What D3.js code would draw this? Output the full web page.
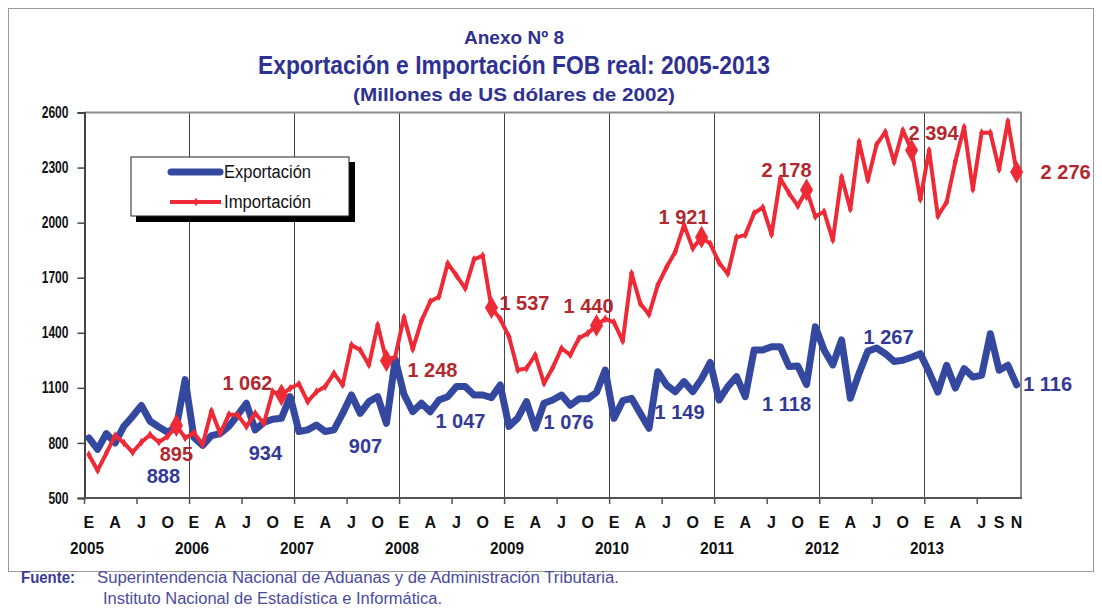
<!DOCTYPE html>
<html>
<head>
<meta charset="utf-8">
<script src="https://cdn.jsdelivr.net/npm/d3@7"></script>
<style>
  html, body { margin: 0; padding: 0; background: #fff; }
  svg { display: block; }
  text { font-family: "Liberation Sans Narrow", "Arial Narrow", "Liberation Sans", Arial, sans-serif; }
</style>
</head>
<body>
<svg id="chart" width="1102" height="609"></svg>
<script>
// Monthly series, January 2005 to November 2013 (millions of 2002 US dollars)
const years = [2005, 2006, 2007, 2008, 2009, 2010, 2011, 2012, 2013];
const monthCodes = ["E", "F", "M", "A", "M", "J", "J", "A", "S", "O", "N", "D"];
const monthsInLastYear = 11;

const exportacion = [
  827, 765, 851, 800, 891, 945, 1004, 918, 887, 858, 888, 1145,
  830, 787, 840, 851, 891, 952, 1016, 871, 912, 929, 934, 1052,
  862, 871, 898, 862, 871, 961, 1061, 961, 1025, 1052, 907, 1255,
  1065, 970, 1016, 970, 1034, 1052, 1107, 1107, 1061, 1061, 1047, 1116,
  890, 935, 1025, 880, 1016, 1034, 1061, 1005, 1040, 1040, 1076, 1197,
  934, 1030, 1043, 961, 880, 1188, 1116, 1079, 1134, 1079, 1149, 1238,
  1034, 1107, 1161, 1052, 1306, 1306, 1324, 1324, 1216, 1219, 1118, 1433,
  1306, 1225, 1361, 1043, 1180, 1300, 1317, 1286, 1244, 1250, 1267, 1286,
  1186, 1077, 1223, 1099, 1205, 1159, 1168, 1395, 1196, 1223, 1116
];

const importacion = [
  736, 650, 745, 840, 800, 749, 804, 845, 804, 836, 895, 827,
  855, 791, 975, 851, 955, 952, 889, 961, 907, 1079, 1062, 1098,
  1121, 1025, 1079, 1107, 1179, 1116, 1334, 1306, 1225, 1443, 1248, 1270,
  1486, 1310, 1465, 1570, 1597, 1778, 1712, 1642, 1800, 1820, 1537, 1475,
  1379, 1197, 1206, 1279, 1125, 1210, 1315, 1279, 1370, 1397, 1440, 1476,
  1457, 1355, 1724, 1560, 1500, 1660, 1757, 1842, 1987, 1860, 1921, 1885,
  1782, 1722, 1920, 1933, 2051, 2083, 1936, 2241, 2160, 2091, 2178, 2033,
  2060, 1905, 2250, 2073, 2441, 2231, 2425, 2494, 2330, 2503, 2394, 2127,
  2394, 2036, 2112, 2334, 2521, 2181, 2490, 2490, 2290, 2552, 2276
];

const yTicks = [500, 800, 1100, 1400, 1700, 2000, 2300, 2600];
const tickMonths = [0, 3, 6, 9];
const tickMonthsLast = [0, 3, 6, 8, 10];
const labelledMonth = 10; // November values are annotated

// month categories
const categories = [];
years.forEach((yr, yi) => {
  const n = yi === years.length - 1 ? monthsInLastYear : 12;
  for (let m = 0; m < n; m++) categories.push({ key: yr + "-" + (m + 1), year: yr, month: m });
});

const svg = d3.select("#chart");
const W = 1102, H = 609;
const plot = { left: 84.5, right: 1021, top: 112.5, bottom: 498 };

const x = d3.scaleBand().domain(categories.map(d => d.key)).range([plot.left, plot.right]).padding(0);
const y = d3.scaleLinear().domain([500, 2600]).range([plot.bottom, plot.top]);
const cx = i => x(categories[i].key) + x.bandwidth() / 2;

const titleColor = "#2e3192";
const blue = "#3548a0";
const red = "#ee2a36";
const blueLabel = "#333a96";
const redLabel = "#b3282e";

// outer frame
svg.append("rect").attr("x", 8.5).attr("y", 8.5).attr("width", W - 17).attr("height", 563)
  .attr("fill", "none").attr("stroke", "#9a9a9a").attr("stroke-width", 1);

// titles
function fitText(sel, len) { return sel.attr("textLength", len).attr("lengthAdjust", "spacingAndGlyphs"); }
fitText(svg.append("text").attr("x", 514).attr("y", 44).attr("text-anchor", "middle")
  .attr("font-size", 19).attr("font-weight", "bold").attr("fill", titleColor).text("Anexo Nº 8"), 100);
fitText(svg.append("text").attr("x", 514).attr("y", 74).attr("text-anchor", "middle")
  .attr("font-size", 25).attr("font-weight", "bold").attr("fill", titleColor)
  .text("Exportación e Importación FOB real: 2005-2013"), 512);
fitText(svg.append("text").attr("x", 514).attr("y", 101).attr("text-anchor", "middle")
  .attr("font-size", 19).attr("font-weight", "bold").attr("fill", titleColor)
  .text("(Millones de US dólares de 2002)"), 322);

// vertical year separators
const yearStarts = categories.map((d, i) => i).filter(i => categories[i].month === 0 && i > 0);
svg.append("g").selectAll("line").data(yearStarts).join("line")
  .attr("x1", i => x(categories[i].key)).attr("x2", i => x(categories[i].key))
  .attr("y1", plot.top).attr("y2", plot.bottom)
  .attr("stroke", "#444").attr("stroke-width", 1).attr("shape-rendering", "crispEdges");

// plot border
svg.append("path")
  .attr("d", `M${plot.left},${plot.top}H${plot.right}V${plot.bottom}`)
  .attr("fill", "none").attr("stroke", "#8c8c8c").attr("stroke-width", 2);

// y axis
const yAxis = d3.axisLeft(y).tickValues(yTicks).tickSize(7).tickPadding(4).tickFormat(d3.format("d"));
const gy = svg.append("g").attr("transform", `translate(${plot.left},0)`).call(yAxis);
gy.select(".domain").attr("stroke", "#444").attr("stroke-width", 2);
gy.selectAll(".tick line").attr("stroke", "#444").attr("stroke-width", 1.5);
gy.selectAll(".tick text").attr("font-size", 16).attr("font-weight", "bold").attr("fill", "#111")
  .attr("x", -16)
  .attr("textLength", d => String(d).length * 6.7).attr("lengthAdjust", "spacingAndGlyphs");

// x axis: ticks every six months, month letters and years below
const halfYearBounds = categories.map((d, i) => i).filter(i => categories[i].month % 6 === 0);
const gx = svg.append("g");
gx.append("line").attr("x1", plot.left - 1).attr("x2", plot.right + 1)
  .attr("y1", plot.bottom).attr("y2", plot.bottom).attr("stroke", "#555").attr("stroke-width", 2);
gx.selectAll("line.tk").data(halfYearBounds).join("line").attr("class", "tk")
  .attr("x1", i => x(categories[i].key)).attr("x2", i => x(categories[i].key))
  .attr("y1", plot.bottom).attr("y2", plot.bottom + 6)
  .attr("stroke", "#555").attr("stroke-width", 1.5);

const monthLabelIdx = categories.map((d, i) => i).filter(i => {
  const c = categories[i];
  return (c.year === years[years.length - 1] ? tickMonthsLast : tickMonths).includes(c.month);
});
gx.selectAll("text.m").data(monthLabelIdx).join("text").attr("class", "m")
  .attr("x", i => cx(i)).attr("y", 528).attr("text-anchor", "middle")
  .attr("font-size", 16).attr("font-weight", "bold").attr("fill", "#111")
  .text(i => monthCodes[categories[i].month]);
gx.selectAll("text.yr").data(years).join("text").attr("class", "yr")
  .attr("x", yr => cx(categories.findIndex(c => c.year === yr)) - 2).attr("y", 554)
  .attr("text-anchor", "middle").attr("font-size", 16).attr("font-weight", "bold").attr("fill", "#111")
  .attr("textLength", 34).attr("lengthAdjust", "spacingAndGlyphs")
  .text(yr => yr);

// series
const line = d3.line().x((d, i) => cx(i)).y(d => y(d));
svg.append("path").datum(exportacion).attr("d", line)
  .attr("fill", "none").attr("stroke", blue).attr("stroke-width", 7)
  .attr("stroke-linejoin", "round").attr("stroke-linecap", "round");
svg.append("path").datum(importacion).attr("d", line)
  .attr("fill", "none").attr("stroke", red).attr("stroke-width", 4)
  .attr("stroke-linejoin", "round");

// small markers on the import series
const diamond = d3.symbol().type(d3.symbolDiamond);
svg.append("g").selectAll("path").data(importacion).join("path")
  .attr("transform", (d, i) => `translate(${cx(i)},${y(d)})`)
  .attr("d", diamond.size(22)).attr("fill", red);

// November highlights
const novIdx = categories.map((d, i) => i).filter(i => categories[i].month === labelledMonth);
svg.append("g").selectAll("path").data(novIdx).join("path")
  .attr("transform", i => `translate(${cx(i)},${y(importacion[i])})`)
  .attr("d", d3.symbol().type(d3.symbolDiamond).size(150)()).attr("fill", red);

const fmt = v => d3.format(",")(v).replace(",", " ");
// label placement around each annotated point (dx, dy)
const expOffsets = [[-13, 49], [-16, 34], [-21, 23], [-31, 23], [-28, 30], [-22, 33], [-20, 19], [-23, -20], [31, -1]];
const impOffsets = [[0, 28], [-34, -12], [46, 9], [33, -5], [-8, -20], [-18, -20], [-20, -20], [22, -18], [49, 0]];

svg.append("g").selectAll("text").data(novIdx).join("text")
  .attr("x", (i, k) => cx(i) + expOffsets[k][0]).attr("y", (i, k) => y(exportacion[i]) + expOffsets[k][1])
  .attr("dy", "0.36em").attr("text-anchor", "middle")
  .attr("font-family", "'Liberation Sans',Arial,sans-serif")
  .attr("font-size", 20).attr("font-weight", "bold").attr("fill", blueLabel)
  .text(i => fmt(exportacion[i]));
svg.append("g").selectAll("text").data(novIdx).join("text")
  .attr("x", (i, k) => cx(i) + impOffsets[k][0]).attr("y", (i, k) => y(importacion[i]) + impOffsets[k][1])
  .attr("dy", "0.36em").attr("text-anchor", "middle")
  .attr("font-family", "'Liberation Sans',Arial,sans-serif")
  .attr("font-size", 20).attr("font-weight", "bold").attr("fill", redLabel)
  .text(i => fmt(importacion[i]));

// legend
const lg = svg.append("g");
lg.append("rect").attr("x", 136).attr("y", 162).attr("width", 219).attr("height", 60).attr("fill", "#000");
lg.append("rect").attr("x", 131).attr("y", 157).attr("width", 218).attr("height", 59)
  .attr("fill", "#fff").attr("stroke", "#222").attr("stroke-width", 1);
lg.append("line").attr("x1", 171).attr("x2", 220).attr("y1", 172).attr("y2", 172)
  .attr("stroke", blue).attr("stroke-width", 7).attr("stroke-linecap", "round");
lg.append("line").attr("x1", 170).attr("x2", 221).attr("y1", 202).attr("y2", 202)
  .attr("stroke", red).attr("stroke-width", 4);
lg.append("path").attr("transform", "translate(196,202)").attr("d", diamond.size(22)()).attr("fill", red);
fitText(lg.append("text").attr("x", 224).attr("y", 178).attr("font-size", 18).attr("fill", "#111")
  .text("Exportación"), 87);
fitText(lg.append("text").attr("x", 224).attr("y", 208).attr("font-size", 18).attr("fill", "#111")
  .text("Importación"), 87);

// source note
const src = svg.append("g");
fitText(src.append("text").attr("x", 21).attr("y", 583).attr("font-size", 16).attr("font-weight", "bold")
  .attr("fill", "#3a3a96").text("Fuente:"), 54);
fitText(src.append("text").attr("x", 97).attr("y", 583).attr("font-size", 16).attr("fill", "#4b4b9e")
  .text("Superintendencia Nacional de Aduanas y de Administración Tributaria."), 522);
fitText(src.append("text").attr("x", 103).attr("y", 604).attr("font-size", 16).attr("fill", "#4b4b9e")
  .text("Instituto Nacional de Estadística e Informática."), 339);
</script>
</body>
</html>
